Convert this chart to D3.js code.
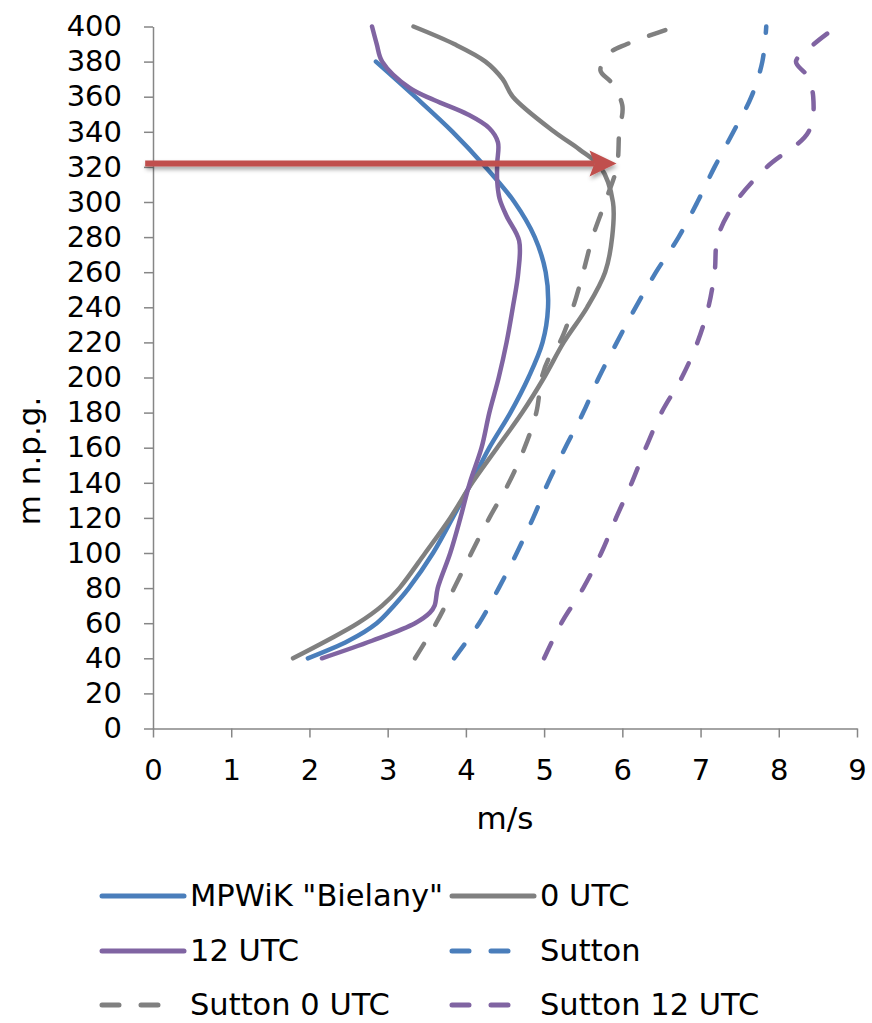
<!DOCTYPE html>
<html>
<head>
<meta charset="utf-8">
<script src="https://cdn.jsdelivr.net/npm/d3@7"></script>
<style>
  body { margin: 0; background: #fff; }
  svg { display: block; font-family: "DejaVu Sans", Verdana, sans-serif; }
</style>
</head>
<body>
<svg width="872" height="1023"></svg>
<script>
// [height m, speed m/s]
const bielany = [[40,1.98],[50,2.5],[60,2.86],[70,3.08],[80,3.27],[100,3.58],[120,3.83],[140,4.07],[160,4.3],[180,4.57],[200,4.8],[220,4.98],[240,5.05],[260,5.02],[280,4.88],[300,4.62],[320,4.25],[340,3.83],[360,3.35],[380,2.85]];
const utc0 = [[40,1.79],[50,2.22],[60,2.62],[70,2.93],[80,3.15],[100,3.48],[120,3.8],[140,4.08],[160,4.4],[180,4.72],[200,5.0],[220,5.25],[240,5.55],[260,5.78],[280,5.87],[300,5.88],[320,5.72],[330,5.45],[340,5.13],[360,4.6],[370,4.47],[380,4.25],[390,3.85],[400,3.33]];
const utc12 = [[40,2.16],[50,2.8],[60,3.35],[66,3.54],[70,3.6],[80,3.64],[100,3.8],[120,3.93],[140,4.05],[160,4.2],[180,4.3],[200,4.42],[220,4.52],[240,4.6],[260,4.67],[278,4.68],[292,4.52],[302,4.43],[312,4.4],[322,4.4],[334,4.41],[342,4.3],[350,4.02],[358,3.6],[365,3.28],[380,2.93],[390,2.86],[400,2.8]];
const sutton = [[40,3.85],[60,4.17],[80,4.42],[100,4.65],[120,4.86],[140,5.05],[160,5.27],[180,5.5],[200,5.7],[220,5.93],[240,6.17],[260,6.43],[280,6.72],[300,6.96],[320,7.18],[340,7.42],[360,7.65],[380,7.79],[400,7.84]];
const sutton0 = [[40,3.35],[60,3.62],[80,3.85],[100,4.07],[120,4.3],[140,4.55],[160,4.75],[180,4.9],[200,4.97],[210,5.05],[220,5.2],[240,5.37],[260,5.5],[280,5.62],[300,5.78],[320,5.93],[340,5.96],[355,6.0],[368,5.86],[375,5.72],[385,5.84],[390,6.06],[398,6.55]];
const sutton12 = [[40,5.0],[60,5.22],[80,5.5],[100,5.73],[120,5.92],[140,6.12],[160,6.3],[180,6.5],[200,6.76],[220,6.96],[240,7.1],[260,7.18],[280,7.22],[300,7.45],[320,7.85],[340,8.38],[360,8.44],[372,8.36],[380,8.22],[390,8.45],[397,8.65]];

const seriesNames = ['MPWiK "Bielany"', "0 UTC", "12 UTC", "Sutton", "Sutton 0 UTC", "Sutton 12 UTC"];
const seriesData = [bielany, utc0, utc12, sutton, sutton0, sutton12];
const xTicks = d3.range(0, 10, 1);
const yTicks = d3.range(0, 401, 20);
const arrowH = 322, arrowFrom = -0.1, arrowTo = 5.9;

const colors = ["#4a7ebb", "#808080", "#8064a2", "#4a7ebb", "#808080", "#8064a2"];
const dashed = [false, false, false, true, true, true];
const DASH = "17,22";

const svg = d3.select("svg");
const x = d3.scaleLinear().domain([0, 9]).range([153, 857]);
const y = d3.scaleLinear().domain([0, 400]).range([728.5, 26.5]);

// drop shadow for the arrow
const defs = svg.append("defs");
defs.append("filter").attr("id", "shadow")
  .attr("x", "-10%").attr("y", "-100%").attr("width", "120%").attr("height", "300%")
  .append("feDropShadow")
  .attr("dx", 1).attr("dy", 3).attr("stdDeviation", 2)
  .attr("flood-color", "#000").attr("flood-opacity", 0.35);

// axes
const yAxis = svg.append("g")
  .attr("transform", `translate(${x(0)},0)`)
  .call(d3.axisLeft(y).tickValues(yTicks).tickSize(9).tickPadding(22).tickSizeOuter(0));
const xAxis = svg.append("g")
  .attr("transform", `translate(0,${y(0)})`)
  .call(d3.axisBottom(x).tickValues(xTicks).tickSize(9).tickPadding(22).tickSizeOuter(0));

[xAxis, yAxis].forEach(g => {
  g.select(".domain").attr("stroke", "#868686").attr("stroke-width", 1.5);
  g.selectAll(".tick line").attr("stroke", "#868686").attr("stroke-width", 1.5);
  g.selectAll(".tick text").attr("fill", "#000").style("font-size", "29px")
    .style("font-family", '"DejaVu Sans", Verdana, sans-serif');
});

// axis titles
svg.append("text")
  .attr("x", (x(0) + x(9)) / 2).attr("y", 829)
  .attr("text-anchor", "middle").style("font-size", "31px")
  .text("m/s");
svg.append("text")
  .attr("transform", "translate(40,461) rotate(-90)")
  .attr("text-anchor", "middle").style("font-size", "31px")
  .text("m n.p.g.");

// series lines
const line = d3.line()
  .x(d => x(d[1]))
  .y(d => y(d[0]))
  .curve(d3.curveCatmullRom.alpha(0.5));

svg.append("g").selectAll("path")
  .data(seriesData)
  .join("path")
  .attr("d", line)
  .attr("fill", "none")
  .attr("stroke", (d, i) => colors[i])
  .attr("stroke-width", 4.5)
  .attr("stroke-linecap", "round")
  .attr("stroke-linejoin", "round")
  .attr("stroke-dasharray", (d, i) => dashed[i] ? DASH : null);

// red arrow annotation
const ay = y(arrowH);
const arrow = svg.append("g").attr("filter", "url(#shadow)");
arrow.append("line")
  .attr("x1", x(arrowFrom)).attr("x2", x(arrowTo) - 20)
  .attr("y1", ay).attr("y2", ay)
  .attr("stroke", "#c0504d").attr("stroke-width", 6);
arrow.append("path")
  .attr("d", `M${x(arrowTo) + 2},${ay} L${x(arrowTo) - 25},${ay - 13} L${x(arrowTo) - 20},${ay} L${x(arrowTo) - 25},${ay + 13} Z`)
  .attr("fill", "#c0504d");

// legend
const legendCols = [102, 452];
const legendRows = [896, 951, 1005];
const legend = svg.append("g").selectAll("g")
  .data(seriesNames)
  .join("g")
  .attr("transform", (d, i) => `translate(${legendCols[i % 2]},${legendRows[Math.floor(i / 2)]})`);

legend.append("line")
  .attr("x1", 0).attr("x2", (d, i) => dashed[i] ? 62 : 82)
  .attr("y1", 0).attr("y2", 0)
  .attr("stroke", (d, i) => colors[i])
  .attr("stroke-width", 5)
  .attr("stroke-linecap", "round")
  .attr("stroke-dasharray", (d, i) => dashed[i] ? DASH : null);

legend.append("text")
  .attr("x", 88).attr("y", 0)
  .attr("dy", "0.34em")
  .style("font-size", "30.5px")
  .text(d => d);
</script>
</body>
</html>
